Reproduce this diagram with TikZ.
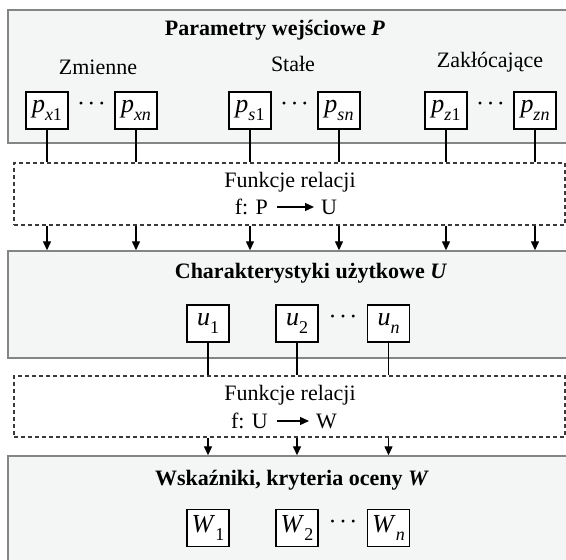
\documentclass[tikz,border=0pt]{standalone}
\usepackage{fontspec}
\setmainfont{Liberation Serif}
\usetikzlibrary{arrows.meta,calc}
\definecolor{panelfill}{HTML}{F4F5F5}
\definecolor{panelline}{HTML}{858585}
\definecolor{dashline}{HTML}{3A3A3A}
\newcommand{\lowsub}[1]{\raisebox{-0.28em}{\fontsize{18}{19}\selectfont #1}}
\newcommand{\mydots}{{\fontsize{24}{24}\selectfont ·\hspace{2.5pt}·\hspace{2.5pt}·}}
\begin{document}
\begin{tikzpicture}[x=1pt,y=-1pt,
  panel/.style={draw=panelline,fill=panelfill,line width=1.4pt,inner sep=0pt},
  relbox/.style={draw=dashline,fill=white,line width=1.1pt,dash pattern=on 4pt off 3pt,inner sep=0pt},
  pbox/.style={draw,fill=white,line width=1.4pt,minimum width=42pt,minimum height=37pt,inner sep=0pt,font=\fontsize{26}{28}\selectfont},
  txt/.style={inner sep=0pt,font=\fontsize{22}{26}\selectfont},
  ttl/.style={inner sep=0pt,font=\fontsize{22}{26}\selectfont\bfseries},
  conn/.style={line width=1.3pt},
  arr/.style={line width=1.3pt,-{Triangle[length=9pt,width=8pt]}}
]
\useasboundingbox (0,0) rectangle (566,560);
\clip (0,0) rectangle (566,560);
% panels
\node[panel,minimum width=567pt,minimum height=133pt] (P) at (291.5,76.5) {};
\node[relbox,minimum width=551pt,minimum height=62pt] (F1) at (289.5,194) {};
\node[panel,minimum width=567pt,minimum height=107pt] (U) at (291.5,304.5) {};
\node[relbox,minimum width=551pt,minimum height=61pt] (F2) at (289.5,406.5) {};
\node[panel,minimum width=567pt,minimum height=119pt] (W) at (291.5,515.5) {};
% top panel texts
\node[ttl] (tP) at (275,30) {Parametry wejściowe \textit{P}};
\node[txt] (lz) at (98,67) {Zmienne};
\node[txt] (ls) at (293,64) {Stałe};
\node[txt] (lk) at (490,62) {Zakłócające};
% p boxes
\node[pbox] (px1) at (47,110.5) {\textit{p}\lowsub{\textit{x}1}};
\node[pbox] (pxn) at (136,110.5) {\textit{p}\lowsub{\textit{xn}}};
\node[pbox] (ps1) at (250,110.5) {\textit{p}\lowsub{\textit{s}1}};
\node[pbox] (psn) at (339,110.5) {\textit{p}\lowsub{\textit{sn}}};
\node[pbox] (pz1) at (446,110.5) {\textit{p}\lowsub{\textit{z}1}};
\node[pbox] (pzn) at (535,110.5) {\textit{p}\lowsub{\textit{zn}}};
\node[inner sep=0pt] (d1) at (91.5,107) {\mydots};
\node[inner sep=0pt] (d2) at (294.5,107) {\mydots};
\node[inner sep=0pt] (d3) at (490.5,107) {\mydots};
% relation box 1 texts
\node[txt] (r1) at (290,182) {Funkcje relacji};
\node[txt,anchor=east] (fp) at (268,207) {f: P};
\node[txt,anchor=west] (fu) at (321,207) {U};
\draw[line width=1.3pt,-{Triangle[length=9pt,width=8pt]}] ([xshift=9pt]fp.east) -- ([xshift=-7pt]fu.west);
% connectors P -> F1 -> U
\foreach \n in {px1,pxn,ps1,psn,pz1,pzn}{
  \draw[conn] (\n.south) -- (\n.south |- F1.north);
  \draw[arr] (\n.south |- F1.south) -- (\n.south |- U.north);
}
% U panel
\node[ttl] (tU) at (311,273) {Charakterystyki użytkowe \textit{U}};
\node[pbox] (u1) at (208,323.5) {\textit{u}\lowsub{1}};
\node[pbox] (u2) at (297,323.5) {\textit{u}\lowsub{2}};
\node[pbox] (un) at (388.5,323.5) {\textit{u}\lowsub{\textit{n}}};
\node[inner sep=0pt] (d4) at (343,320) {\mydots};
% relation box 2 texts
\node[txt] (r2) at (290,395) {Funkcje relacji};
\node[txt,anchor=east] (fuu) at (268,421) {f: U};
\node[txt,anchor=west] (fw) at (316,421) {W};
\draw[line width=1.3pt,-{Triangle[length=9pt,width=8pt]}] ([xshift=9pt]fuu.east) -- ([xshift=-7pt]fw.west);
\foreach \n in {u1,u2,un}{
  \draw[conn] (\n.south) -- (\n.south |- F2.north);
  \draw[arr] (\n.south |- F2.south) -- (\n.south |- W.north);
}
% W panel
\node[ttl] (tW) at (292,480) {Wskaźniki, kryteria oceny \textit{W}};
\node[pbox] (w1) at (208,528) {\textit{W}\lowsub{1}};
\node[pbox] (w2) at (297,528) {\textit{W}\lowsub{2}};
\node[pbox] (wn) at (388.5,528) {\textit{W}\lowsub{\textit{n}}};
\node[inner sep=0pt] (d5) at (343,525) {\mydots};
\end{tikzpicture}
\end{document}
